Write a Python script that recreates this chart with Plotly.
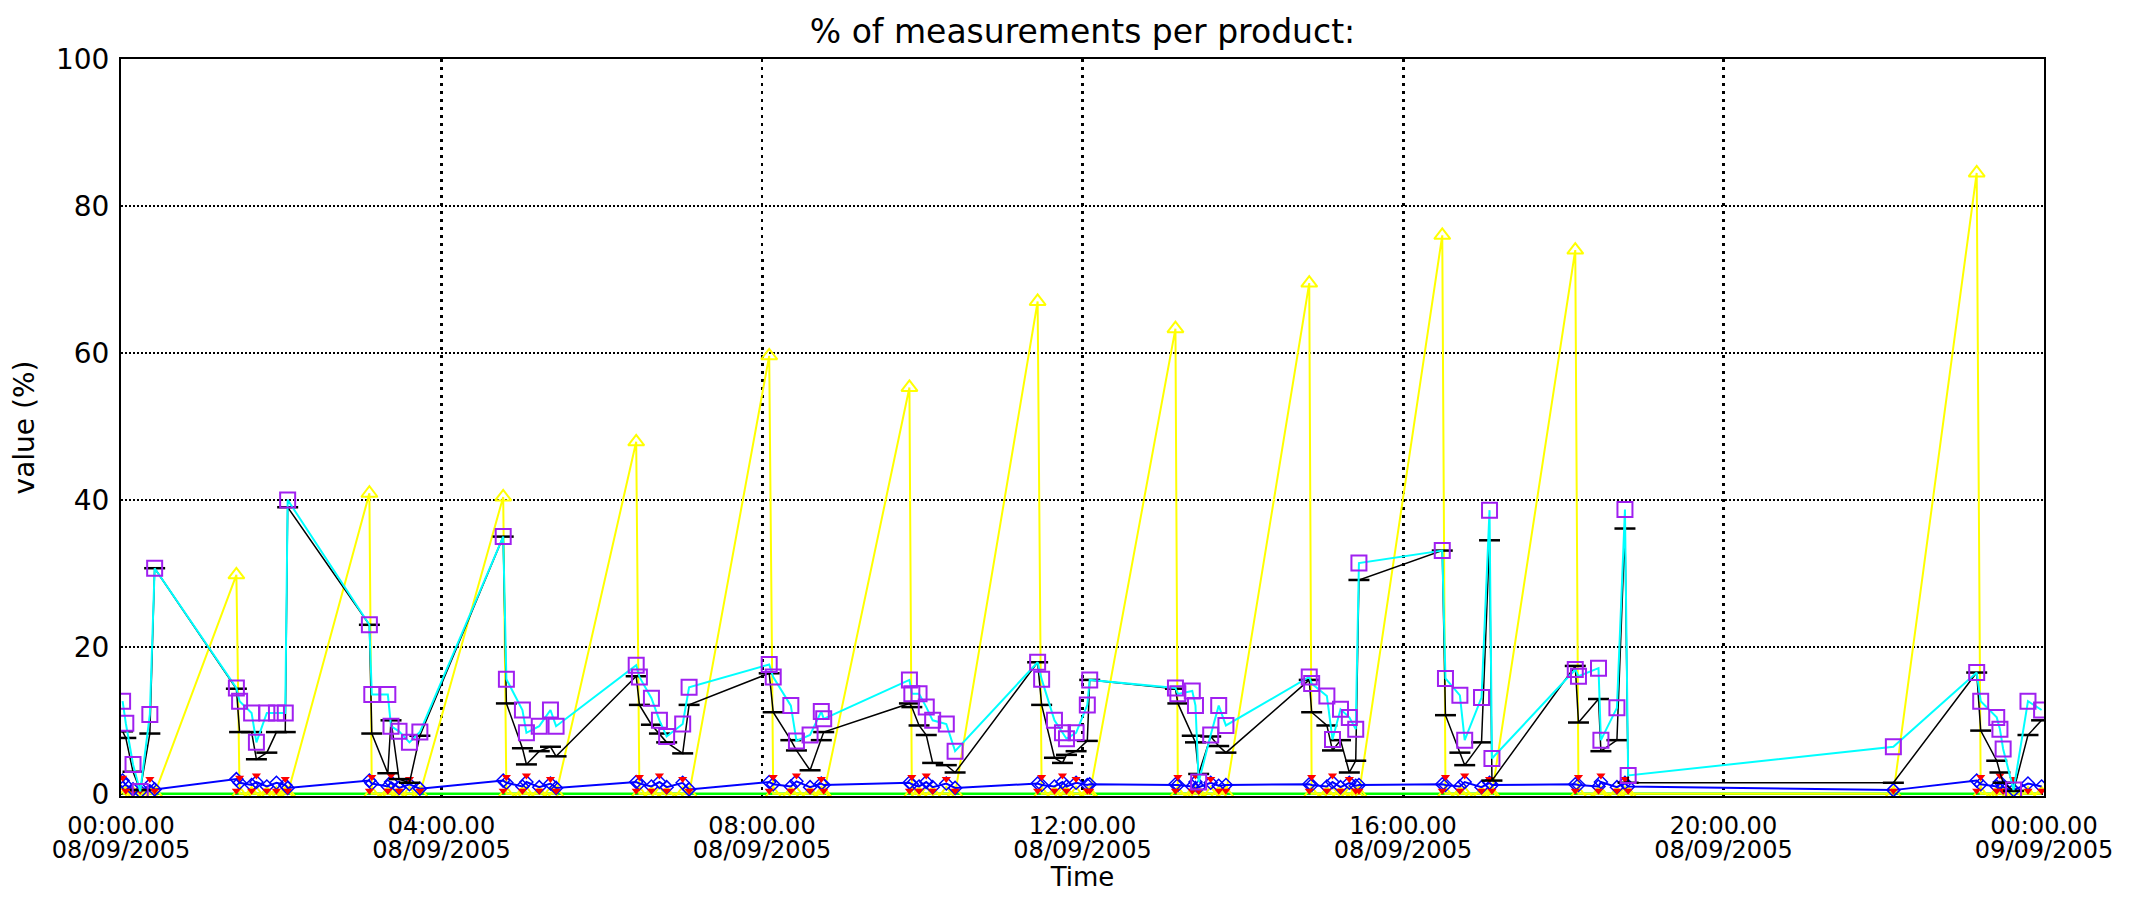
import pandas as pd
import plotly.graph_objects as go

# ---------------- data ----------------
day = "2005-09-08"

# measurement times, hours after midnight of 08/09/2005
hours = [
    0.02, 0.06, 0.15, 0.24, 0.36, 0.42,
    1.44, 1.48, 1.63, 1.69, 1.82, 1.94, 2.05, 2.08,
    3.10, 3.13, 3.33, 3.37, 3.47, 3.60, 3.73,
    4.77, 4.81, 5.01, 5.06, 5.22, 5.36, 5.43,
    6.43, 6.47, 6.62, 6.72, 6.81, 7.01, 7.09,
    8.09, 8.14, 8.36, 8.43, 8.60, 8.74, 8.77,
    9.84, 9.87, 9.96, 10.05, 10.13, 10.30, 10.41,
    11.44, 11.49, 11.65, 11.75, 11.80, 11.92, 12.06, 12.09,
    13.16, 13.19, 13.37, 13.41, 13.45, 13.60, 13.70, 13.79,
    14.83, 14.86, 15.05, 15.12, 15.22, 15.33, 15.41, 15.45,
    16.49, 16.53, 16.71, 16.77, 16.98, 17.08, 17.11,
    18.15, 18.19, 18.44, 18.47, 18.67, 18.77, 18.81,
    22.12,
    23.16, 23.21, 23.41, 23.45, 23.49, 23.62, 23.80, 23.97,
]

yellow = [
    0, 0, 0, 0, 0, 0,
    29.8, 0, 0, 0, 0, 0, 0, 0,
    40.9, 0, 0, 0, 0, 0, 0,
    40.4, 0, 0, 0, 0, 0, 0,
    47.9, 0, 0, 0, 0, 0, 0,
    59.6, 0, 0, 0, 0, 0, 0,
    55.3, 0, 0, 0, 0, 0, 0,
    67.0, 0, 0, 0, 0, 0, 0, 0,
    63.3, 0, 0, 0, 0, 0, 0, 0,
    69.5, 0, 0, 0, 0, 0, 0, 0,
    76.0, 0, 0, 0, 0, 0, 0,
    74.0, 0, 0, 0, 0, 0, 0,
    0,
    84.5, 0, 0, 0, 0, 0, 0, 0,
]

cyan = [
    12.6, 9.6, 4.0, 0.3, 10.8, 30.7,
    14.4, 12.6, 11.0, 7.0, 11.0, 11.0, 11.0, 40.0,
    23.0, 13.5, 13.5, 9.2, 8.5, 7.0, 8.4,
    35.0, 15.6, 11.4, 8.3, 9.2, 11.4, 9.2,
    17.5, 15.9, 13.0, 10.0, 7.8, 9.5, 14.5,
    17.6, 15.9, 12.0, 7.2, 8.0, 11.2, 10.2,
    15.5, 13.6, 13.6, 11.8, 10.0, 9.5, 5.8,
    17.9, 15.6, 10.0, 8.3, 7.5, 8.3, 12.1, 15.5,
    14.4, 13.6, 14.0, 12.0, 1.6, 8.0, 12.0, 9.3,
    15.9, 15.0, 13.3, 7.4, 11.5, 10.4, 8.8, 31.4,
    33.1, 15.7, 13.4, 7.3, 13.1, 38.6, 4.8,
    16.9, 16.0, 17.1, 7.3, 11.7, 38.7, 2.5,
    6.4,
    16.5, 12.6, 10.4, 8.8, 6.1, 0.5, 12.6, 11.4,
]

black = [
    8.5, 7.6, 3.0, 0.5, 8.2, 30.7,
    14.3, 8.4, 8.4, 4.7, 5.6, 8.4, 8.4, 39.0,
    23.0, 8.2, 2.8, 10.0, 2.0, 1.5, 7.9,
    35.0, 12.3, 6.2, 4.0, 5.8, 6.4, 5.1,
    16.0, 12.1, 9.4, 8.2, 7.0, 5.5, 12.1,
    16.4, 11.1, 7.3, 5.9, 3.2, 7.3, 8.4,
    12.3, 11.8, 9.3, 8.0, 4.2, 3.9, 2.9,
    17.9, 12.1, 4.9, 4.2, 5.3, 5.8, 7.2, 15.5,
    14.3, 12.3, 7.9, 7.0, 2.7, 7.8, 6.5, 5.6,
    15.5, 11.1, 9.3, 5.9, 7.3, 2.9, 4.5, 29.1,
    33.1, 10.7, 5.6, 3.9, 7.0, 34.5, 1.8,
    17.4, 9.7, 12.9, 5.8, 7.3, 36.1, 1.5,
    1.5,
    16.5, 8.6, 4.5, 2.9, 1.5, 0.4, 8.0, 10.0,
]

blue = [
    1.8, 1.2, 0.6, 0.3, 1.2, 0.6,
    2.0, 1.5, 1.2, 1.6, 1.0, 1.5, 1.2, 0.8,
    1.8, 1.4, 1.0, 1.6, 0.8, 1.3, 0.7,
    1.8, 1.5, 1.0, 1.6, 0.9, 1.4, 0.8,
    1.6, 1.4, 1.0, 1.6, 0.9, 1.5, 0.6,
    1.6, 1.3, 1.0, 1.7, 0.9, 1.4, 1.2,
    1.5, 1.3, 1.0, 1.6, 0.9, 1.4, 0.8,
    1.4, 1.2, 1.0, 1.6, 1.0, 1.5, 1.2, 1.3,
    1.3, 1.2, 1.0, 1.6, 0.9, 1.5, 1.1, 1.2,
    1.3, 1.2, 1.0, 1.6, 0.9, 1.5, 1.1, 1.2,
    1.3, 1.2, 1.0, 1.6, 0.9, 1.5, 1.2,
    1.3, 1.2, 1.0, 1.6, 0.9, 1.5, 1.0,
    0.5,
    1.8, 1.3, 1.0, 1.6, 0.9, 0.5, 1.4, 1.0,
]

red = [
    2.2, 0.4, 0.4, 0.4, 2.0, 0.4,
    0.4, 2.2, 0.4, 2.5, 0.4, 0.4, 2.0, 0.4,
    0.4, 2.3, 0.4, 2.5, 0.4, 2.0, 0.4,
    0.4, 2.3, 0.4, 2.5, 0.4, 2.0, 0.4,
    0.4, 2.3, 0.4, 2.5, 0.4, 2.0, 0.4,
    0.4, 2.3, 0.4, 2.5, 0.4, 2.0, 0.4,
    0.4, 2.3, 0.4, 2.5, 0.4, 2.0, 0.4,
    0.4, 2.3, 0.4, 2.5, 0.4, 2.0, 0.4, 0.4,
    0.4, 2.3, 0.4, 2.5, 0.4, 2.0, 0.4, 0.4,
    0.4, 2.3, 0.4, 2.5, 0.4, 2.0, 0.4, 0.4,
    0.4, 2.3, 0.4, 2.5, 0.4, 2.0, 0.4,
    0.4, 2.3, 0.4, 2.5, 0.4, 2.0, 0.4,
    0.4,
    0.4, 2.3, 0.4, 2.5, 0.4, 2.0, 0.4, 0.4,
]

green = [
    0, 0, 0, 0, 0, 0,
    0, 0, 0, 0, 0, 0, 0, 0,
    0, 0, 0, 0, 0, 0, 0,
    0, 0, 0, 0, 0, 0, 0,
    0, 0, 0, 0, 0, 0, 0,
    0, 0, 0, 0, 0, 0, 0,
    0, 0, 0, 0, 0, 0, 0,
    0, 0, 0, 0, 0, 0, 0, 0,
    0, 0, 0, 0, 0, 0, 0, 0,
    0, 0, 0, 0, 0, 0, 0, 0,
    0, 0, 0, 0, 0, 0, 0,
    0, 0, 0, 0, 0, 0, 0,
    0,
    0, 0, 0, 0, 0, 0, 0, 0,
]

tick_hours = [0, 4, 8, 12, 16, 20, 24]
tick_time_labels = ["00:00.00", "04:00.00", "08:00.00", "12:00.00",
                    "16:00.00", "20:00.00", "00:00.00"]
tick_date_labels = ["08/09/2005", "08/09/2005", "08/09/2005", "08/09/2005",
                    "08/09/2005", "08/09/2005", "09/09/2005"]
y_ticks = [0, 20, 40, 60, 80, 100]

# ---------------- figure ----------------
t0 = pd.Timestamp(day)
times = [t0 + pd.Timedelta(hours=h) for h in hours]
tickvals = [t0 + pd.Timedelta(hours=h) for h in tick_hours]
xrange = [t0, t0 + pd.Timedelta(hours=24)]

FONT = "DejaVu Sans"
PURPLE = "#a020f0"

# the page body has an 8 px margin, so the figure is 16 px smaller than the window
W, H = 2116, 884

fig = go.Figure()
fig.add_trace(go.Scatter(x=times, y=green, mode="lines",
                         line=dict(color="#00ff00", width=2.5)))
fig.add_trace(go.Scatter(x=times, y=yellow, mode="lines+markers",
                         line=dict(color="#ffff00", width=2),
                         marker=dict(symbol="triangle-up-open", size=14, color="#ffff00",
                                     line=dict(color="#ffff00", width=2))))
fig.add_trace(go.Scatter(x=times, y=blue, mode="lines+markers",
                         line=dict(color="#0000ff", width=2),
                         marker=dict(symbol="diamond-open", size=10, color="#0000ff",
                                     line=dict(color="#0000ff", width=1.5))))
fig.add_trace(go.Scatter(x=times, y=red, mode="markers",
                         marker=dict(symbol="triangle-down", size=8, color="#ff0000")))
fig.add_trace(go.Scatter(x=times, y=black, mode="lines+markers",
                         line=dict(color="#000000", width=1.5),
                         marker=dict(symbol="line-ew", size=15, color="#000000",
                                     line=dict(color="#000000", width=2.5))))
fig.add_trace(go.Scatter(x=times, y=cyan, mode="lines+markers",
                         line=dict(color="#00ffff", width=2),
                         marker=dict(symbol="square-open", size=15, color=PURPLE,
                                     line=dict(color=PURPLE, width=2))))
# carrier for the second row of x tick labels (dates)
fig.add_trace(go.Scatter(x=[], y=[], xaxis="x2", showlegend=False))

fig.update_layout(
    width=W, height=H,
    margin=dict(l=113, r=80, t=51, b=96),
    paper_bgcolor="white", plot_bgcolor="white",
    showlegend=False,
    font=dict(family=FONT, color="black"),
    title=dict(text="% of measurements per product:", x=0.5, xref="paper",
               y=1 - 23 / H, yanchor="middle",
               font=dict(family=FONT, size=33, color="black")),
    xaxis=dict(type="date", range=xrange, tickmode="array",
               tickvals=tickvals, ticktext=tick_time_labels,
               tickfont=dict(family=FONT, size=24, color="black"),
               ticks="", ticklabelstandoff=7,
               showgrid=True, gridcolor="black", gridwidth=2.5, griddash="3px,5px",
               showline=True, mirror=True, linecolor="black", linewidth=2,
               zeroline=False, layer="below traces", automargin=False),
    xaxis2=dict(type="date", range=xrange, overlaying="x", anchor="y", side="bottom",
                tickmode="array", tickvals=tickvals, ticktext=tick_date_labels,
                tickfont=dict(family=FONT, size=24, color="black"),
                ticks="", ticklabelstandoff=37,
                showgrid=False, showline=False, zeroline=False, automargin=False,
                title=dict(text="Time", standoff=12,
                           font=dict(family=FONT, size=26, color="black"))),
    yaxis=dict(range=[-0.3, 100], tickmode="array", tickvals=y_ticks,
               tickfont=dict(family=FONT, size=28, color="black"),
               ticks="", ticklabelstandoff=4,
               showgrid=True, gridcolor="black", gridwidth=1.5, griddash="2px,2px",
               showline=True, mirror=True, linecolor="black", linewidth=2,
               zeroline=False, layer="below traces", automargin=False,
               title=dict(text="value (%)", standoff=14,
                          font=dict(family=FONT, size=28, color="black"))),
)

fig.write_html("out.html")
